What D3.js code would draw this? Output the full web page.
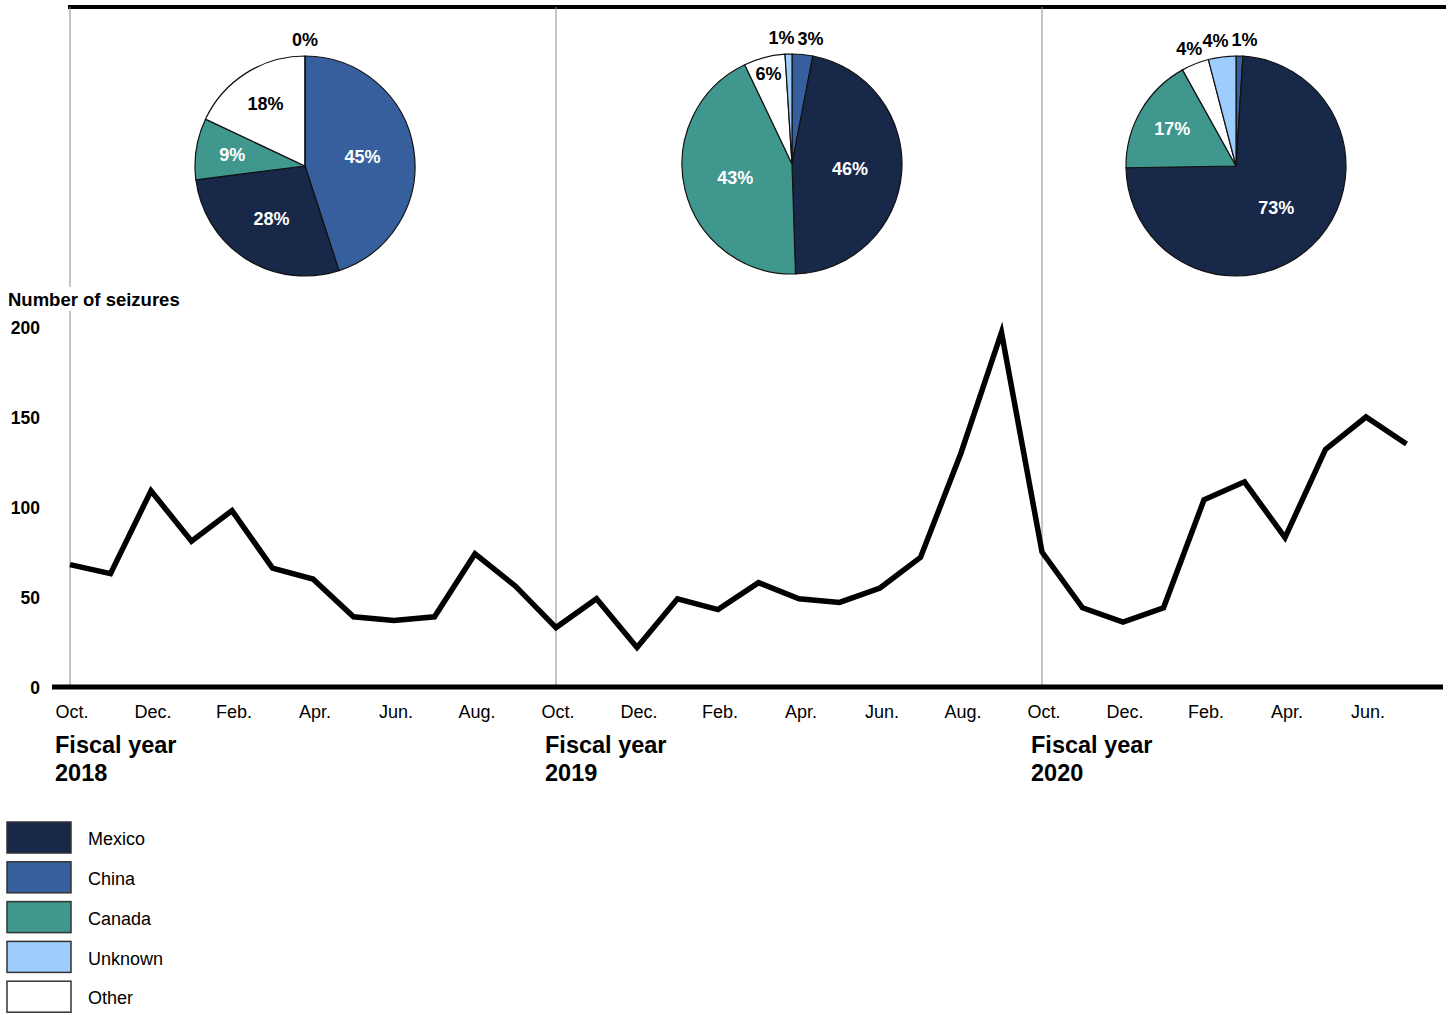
<!DOCTYPE html>
<html>
<head>
<meta charset="utf-8">
<script src="https://cdn.jsdelivr.net/npm/d3@7"></script>
<style>
    body { margin: 0; background: #fff; }
    svg { font-family: Arial, "Liberation Sans", sans-serif; }
</style>
</head>
<body>
<div id="chart"></div>
<script>
// monthly seizures, Oct 2017 - Jul 2020
const monthNames = ["Oct.", "Nov.", "Dec.", "Jan.", "Feb.", "Mar.", "Apr.", "May", "Jun.", "Jul.", "Aug.", "Sep."];
const seizures = [68, 63, 109, 81, 98, 66, 60, 39, 37, 39, 74, 56,
                  33, 49, 22, 49, 43, 58, 49, 47, 55, 72, 130, 197,
                  75, 44, 36, 44, 104, 114, 83, 132, 150, 135];
const fiscalYears = ["2018", "2019", "2020"];
const yTicks = [0, 50, 100, 150, 200];

// share of seizures by origin, one pie per fiscal year (clockwise from top)
const origins = ["China", "Mexico", "Canada", "Other", "Unknown"];
const share2018 = [45, 28, 9, 18, 0];
const share2019 = [3, 46, 43, 6, 1];
const share2020 = [1, 73, 17, 4, 4];
const shares = [share2018, share2019, share2020];

const legendOrder = ["Mexico", "China", "Canada", "Unknown", "Other"];
const color = d3.scaleOrdinal()
    .domain(["Mexico", "China", "Canada", "Unknown", "Other"])
    .range(["#172849", "#385f9d", "#3f978d", "#9dcdfd", "#ffffff"]);

const W = 1450, H = 1015;
const svg = d3.select("#chart").append("svg")
    .attr("width", W).attr("height", H);

let x = d3.scaleLinear().domain([0, 12]).range([70, 556]);
let y = d3.scaleLinear().domain([0, 200]).range([687, 327]);

// top rule
svg.append("line")
    .attr("x1", 68).attr("x2", 1446).attr("y1", 7).attr("y2", 7)
    .attr("stroke", "#000").attr("stroke-width", 4);

// fiscal year separators
fiscalYears.forEach((fy, i) => {
    svg.append("line")
        .attr("x1", x(i * 12)).attr("x2", x(i * 12))
        .attr("y1", 7).attr("y2", y(0))
        .attr("stroke", "#8a8a8a").attr("stroke-width", 1);
});

// y axis title, white box breaks the first separator
svg.append("rect")
    .attr("x", 6).attr("y", 287).attr("width", 178).attr("height", 24)
    .attr("fill", "#fff");
svg.append("text")
    .attr("x", 8).attr("y", 306)
    .style("font-size", "18.5px").style("font-weight", "bold")
    .text("Number of seizures");

// y axis
let yAxis = d3.axisLeft(y).tickValues(yTicks).tickSize(0).tickPadding(0);
let yg = svg.append("g").attr("transform", "translate(40,0)").call(yAxis);
yg.select(".domain").remove();
yg.selectAll("text")
    .style("font-size", "17.5px").style("font-weight", "bold")
    .attr("fill", "#000").attr("dy", "0.35em");

// x axis labels every other month
let xAxis = d3.axisBottom(x)
    .tickValues(d3.range(0, seizures.length, 2))
    .tickFormat(i => monthNames[i % 12])
    .tickSize(0).tickPadding(0);
let xg = svg.append("g").attr("transform", "translate(1.5,705)").call(xAxis);
xg.select(".domain").remove();
xg.selectAll("text")
    .style("font-size", "18px").attr("fill", "#000").attr("dy", "0.71em");

// fiscal year labels
fiscalYears.forEach((fy, i) => {
    let lx = x(i * 12) - (i === 0 ? 15 : 11);
    let t = svg.append("text")
        .attr("y", 753)
        .style("font-size", "23.5px").style("font-weight", "bold");
    t.append("tspan").attr("x", lx).text("Fiscal year");
    t.append("tspan").attr("x", lx).attr("dy", 28).text(fy);
});

// baseline
svg.append("line")
    .attr("x1", 52).attr("x2", 1443).attr("y1", y(0)).attr("y2", y(0))
    .attr("stroke", "#000").attr("stroke-width", 5);

// seizure line
let line = d3.line().x((d, i) => x(i)).y(d => y(d));
svg.append("path")
    .datum(seizures)
    .attr("d", line)
    .attr("fill", "none")
    .attr("stroke", "#000")
    .attr("stroke-width", 5.5)
    .attr("stroke-linejoin", "miter");

// pies
const R = 110;
const pieCenters = [[305, 166], [792, 164], [1236, 166]];
let pie = d3.pie().sort(null).value(d => d);
let arc = d3.arc().innerRadius(0).outerRadius(R);

shares.forEach((vals, p) => {
    let g = svg.append("g")
        .attr("transform", "translate(" + pieCenters[p][0] + "," + pieCenters[p][1] + ")");
    let arcs = pie(vals);

    g.selectAll("path")
        .data(arcs)
        .enter().append("path")
        .attr("d", arc)
        .attr("fill", (d, i) => color(origins[i]))
        .attr("stroke", "#111")
        .attr("stroke-width", 1.2);

    // label positions
    let labels = arcs.map((d, i) => {
        let a = (d.startAngle + d.endAngle) / 2;
        let pct = vals[i];
        let r, inside = true;
        if (pct >= 40) r = R * 0.53;
        else if (pct >= 20) r = R * 0.57;
        else if (pct >= 8) r = R * 0.67;
        else if (pct >= 5) r = R * 0.85;
        else { r = R + 16; inside = false; }
        return {
            x: Math.sin(a) * r, y: -Math.cos(a) * r,
            text: pct + "%", inside: inside,
            fill: inside && origins[i] !== "Other" ? "#fff" : "#000"
        };
    });

    // spread crowded outside labels
    let outside = labels.filter(l => !l.inside).sort((a, b) => a.x - b.x);
    for (let k = 1; k < outside.length; k++) {
        let gap = outside[k].x - outside[k - 1].x;
        if (gap < 29) {
            let push = (29 - gap) / 2;
            outside[k].x += push;
            outside[k - 1].x -= push;
        }
    }

    g.selectAll(".lbl")
        .data(labels)
        .enter().append("text")
        .attr("class", "lbl")
        .attr("x", d => d.x).attr("y", d => d.y)
        .attr("dy", "0.35em")
        .attr("text-anchor", "middle")
        .style("font-size", "18px").style("font-weight", "bold")
        .attr("fill", d => d.fill)
        .text(d => d.text);
});

// legend
let legend = svg.append("g").attr("transform", "translate(7,822)");
legendOrder.forEach((name, i) => {
    let row = legend.append("g").attr("transform", "translate(0," + (i * 39.8) + ")");
    row.append("rect")
        .attr("width", 64).attr("height", 31)
        .attr("fill", color(name))
        .attr("stroke", "#333").attr("stroke-width", 1.5);
    row.append("text")
        .attr("x", 81).attr("y", 17).attr("dy", "0.35em")
        .style("font-size", "18px")
        .text(name);
});
</script>
</body>
</html>
